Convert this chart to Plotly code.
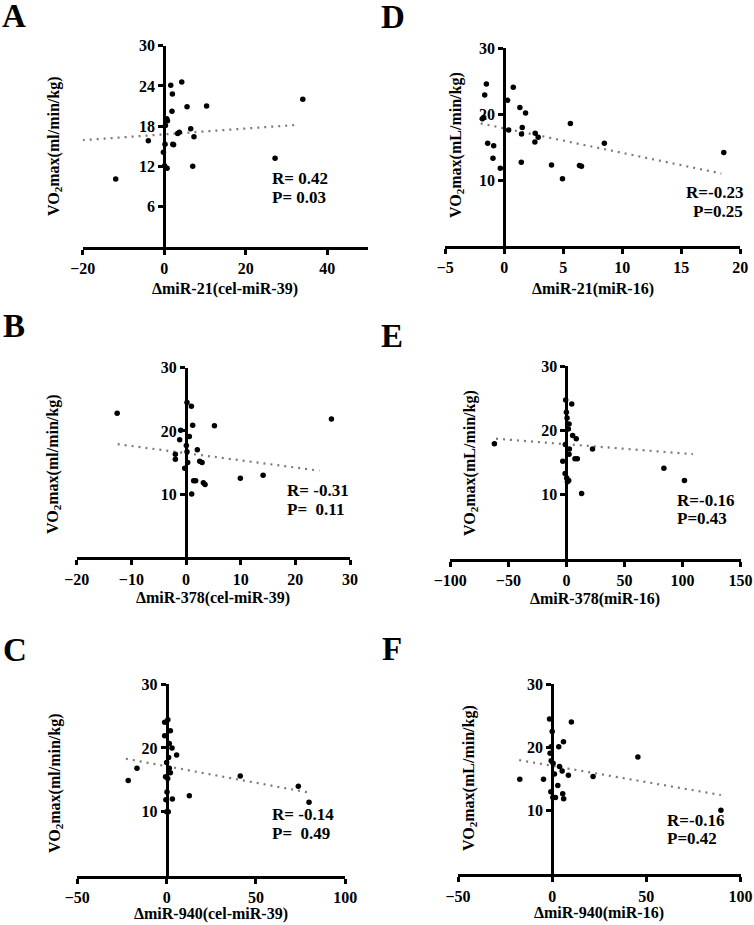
import plotly.graph_objects as go

W, H = 754, 925

# ---------------- data ----------------
# Panel A: dmiR-21 (cel-miR-39)
a_x = [-11.9, -3.9, 1.6, 4.3, 2.0, 5.6, 10.4, 1.9, 0.6, 0.8, 0.3, 3.7, 3.3, 6.5, 7.3, 2.1, 2.3, 0.2, -0.2, 0.1, 0.7, 7.0, 27.2, 34.0]
a_y = [10.1, 15.8, 24.1, 24.6, 22.8, 20.9, 21.0, 20.2, 19.1, 18.8, 18.1, 17.1, 16.9, 17.6, 16.4, 15.3, 15.2, 15.3, 14.1, 12.1, 11.7, 12.0, 13.2, 22.0]
a_fit_x = [-20, 33]
a_fit_y = [15.9, 18.2]

# Panel D: dmiR-21 (miR-16)
d_x = [-1.86, -1.75, -1.66, -1.52, -1.41, -0.9, -0.96, -0.34, 0.28, 0.37, 0.76, 1.32, 1.8, 1.52, 1.46, 1.44, 2.62, 2.87, 2.59, 4.0, 4.93, 5.6, 6.37, 6.54, 8.48, 18.6]
d_y = [19.3, 19.5, 22.9, 24.6, 15.6, 15.2, 13.3, 11.8, 22.1, 17.6, 24.1, 21.0, 20.2, 18.0, 17.0, 12.7, 17.1, 16.5, 15.8, 12.3, 10.2, 18.6, 12.2, 12.1, 15.6, 14.2]
d_fit_x = [-2.0, 18.4]
d_fit_y = [18.6, 11.0]

# Panel B: dmiR-378 (cel-miR-39)
b_x = [-12.6, -1.95, -1.95, -1.16, -0.98, 0.18, 0.98, 1.22, 0.61, 0.06, 0.18, 0.3, -0.24, 2.07, 2.5, 2.93, 1.4, 1.77, 3.17, 3.48, 1.04, 5.2, 9.94, 14.1, 26.6]
b_y = [22.8, 16.3, 15.5, 18.6, 20.1, 24.5, 23.9, 20.9, 19.1, 17.7, 16.7, 15.0, 14.1, 17.0, 15.2, 15.0, 12.1, 12.1, 11.8, 11.5, 10.0, 20.8, 12.5, 13.0, 21.9]
b_fit_x = [-12.5, 24.4]
b_fit_y = [17.9, 13.7]

# Panel E: dmiR-378 (miR-16)
e_x = [-62, 22.5, 84, 101.7, 13.1, 4.6, -0.6, 0, 0.6, 2.3, 1.7, 5.4, 8.5, -0.9, 2.6, 2.3, 7.4, 9.4, -3.1, -1.1, 0.3, 0.9, 2.0]
e_y = [17.9, 17.1, 14.1, 12.2, 10.2, 24.1, 24.7, 22.8, 21.9, 21.0, 20.2, 19.2, 18.7, 17.8, 17.1, 16.3, 15.6, 15.6, 15.2, 13.3, 12.6, 12.0, 12.2]
e_fit_x = [-60.6, 109]
e_fit_y = [18.7, 16.3]

# Panel C: dmiR-940 (cel-miR-39)
c_x = [-21.5, -16.6, 12.7, 3.2, 41.2, 73.7, 79.7, 5.6, 0.7, -1.1, 2.1, -1.1, 1.5, 3.0, 1.1, 0.0, 1.5, 2.1, -0.6, 0.6, 0.2, -0.4, 0.0, 0.9]
c_y = [14.9, 16.8, 12.5, 12.0, 15.6, 14.0, 11.5, 18.9, 24.4, 24.0, 22.7, 21.9, 20.7, 20.0, 18.5, 17.7, 16.8, 16.1, 15.5, 15.2, 13.1, 11.9, 10.0, 10.0]
c_fit_x = [-22.8, 79.9]
c_fit_y = [18.3, 13.0]

# Panel F: dmiR-940 (miR-16)
f_x = [-17.2, -4.6, -1.4, 0.0, -0.5, -1.1, -0.5, 0.5, 1.2, -0.7, 0.35, 1.75, 3.5, 6.0, 10.2, 3.9, 5.3, 3.0, 5.6, 6.1, 8.6, 21.7, 45.5, 89.6]
f_y = [15.0, 15.0, 24.5, 22.5, 20.1, 19.1, 17.9, 17.5, 15.8, 13.0, 12.1, 12.1, 20.1, 20.9, 24.0, 17.0, 16.3, 14.0, 12.7, 11.9, 15.6, 15.4, 18.5, 10.1]
f_fit_x = [-17.5, 89.6]
f_fit_y = [18.0, 12.5]

letters = ["A", "D", "B", "E", "C", "F"]
x_titles = ["ΔmiR-21(cel-miR-39)", "ΔmiR-21(miR-16)", "ΔmiR-378(cel-miR-39)",
            "ΔmiR-378(miR-16)", "ΔmiR-940(cel-miR-39)", "ΔmiR-940(miR-16)"]
y_titles = ["VO<sub>2</sub>max(ml/min/kg)", "VO<sub>2</sub>max(mL/min/kg)", "VO<sub>2</sub>max(ml/min/kg)",
            "VO<sub>2</sub>max(mL/min/kg)", "VO<sub>2</sub>max(ml/min/kg)", "VO<sub>2</sub>max(mL/min/kg)"]
r_texts = ["R= 0.42", "R=-0.23", "R= -0.31", "R=-0.16", "R= -0.14", "R=-0.16"]
p_texts = ["P= 0.03", "P=0.25", "P=\u00a0 0.11", "P=0.43", "P=\u00a0 0.49", "P=0.42"]
x_ranges = [[-20, 50], [-5, 20], [-20, 30], [-100, 150], [-50, 100], [-50, 100]]
x_ticks = [[-20, 0, 20, 40], [-5, 0, 5, 10, 15, 20], [-20, -10, 0, 10, 20, 30],
           [-100, -50, 0, 50, 100, 150], [-50, 0, 50, 100], [-50, 0, 50, 100]]
y_ticks = [[6, 12, 18, 24, 30], [10, 20, 30], [10, 20, 30], [10, 20, 30], [10, 20, 30], [10, 20, 30]]

xs = [a_x, d_x, b_x, e_x, c_x, f_x]
ys = [a_y, d_y, b_y, e_y, c_y, f_y]
fxs = [a_fit_x, d_fit_x, b_fit_x, e_fit_x, c_fit_x, f_fit_x]
fys = [a_fit_y, d_fit_y, b_fit_y, e_fit_y, c_fit_y, f_fit_y]

# ---------------- layout geometry (pixels) ----------------
# plot area: x0, x1, ytop, ybottom
boxes = [
    (82.7, 368.0, 45.7, 246.7),
    (445.3, 740.3, 48.3, 246.0),
    (76.7, 350.0, 367.7, 557.3),
    (450.3, 740.5, 366.0, 559.0),
    (77.3, 345.3, 684.0, 875.7),
    (458.0, 740.5, 684.0, 874.3),
]
letter_pos = [(14, 16), (393, 17), (14, 326), (392, 336), (15, 650), (392, 649)]
ytitle_pos = [(55, 146), (457, 145), (53, 464), (470, 463), (55, 783), (469, 778)]
xtitle_y = [289, 289, 598, 599, 914, 913]
# (x, anchor, y of R line, y of P line)
rp_pos = [(270, "left", 178, 197), (745, "right", 193, 211), (285, "left", 490, 509),
          (675, "left", 500, 518), (270, "left", 814, 833), (665, "left", 820, 838)]

FONT = "Liberation Serif"


def px(x):
    return x / W


def py(y):
    return 1 - y / H


fig = go.Figure()
annotations = []
layout = {}

for i in range(6):
    n = "" if i == 0 else str(i + 1)
    x0, x1, yt, yb = boxes[i]
    xr = x_ranges[i]
    zero_pos = px(x0 + (0 - xr[0]) / (xr[1] - xr[0]) * (x1 - x0))

    fig.add_trace(go.Scatter(
        x=fxs[i], y=fys[i], mode="lines",
        line=dict(color="#7a7a7a", width=2.2, dash="2px,5px"),
        xaxis="x" + n, yaxis="y" + n, showlegend=False, hoverinfo="skip"))
    fig.add_trace(go.Scatter(
        x=xs[i], y=ys[i], mode="markers",
        marker=dict(color="black", size=5.5),
        xaxis="x" + n, yaxis="y" + n, showlegend=False))

    layout["xaxis" + n] = dict(
        domain=[px(x0), px(x1)], range=xr, anchor="y" + n, automargin=False,
        tickvals=x_ticks[i], ticks="outside", ticklen=5, tickwidth=3, tickcolor="black",
        ticklabeloverflow="allow",
        showline=True, linewidth=3, linecolor="black", showgrid=False, zeroline=False,
        tickfont=dict(family=FONT, size=16, color="black", weight="bold"))
    layout["yaxis" + n] = dict(
        domain=[py(yb), py(yt)], range=[0, 30], anchor="free", position=zero_pos,
        automargin=False, ticklabeloverflow="allow",
        tickvals=y_ticks[i], ticks="outside", ticklen=5, tickwidth=3, tickcolor="black",
        showline=True, linewidth=3, linecolor="black", showgrid=False, zeroline=False,
        tickfont=dict(family=FONT, size=16, color="black", weight="bold"))

    lx, ly = letter_pos[i]
    annotations.append(dict(text=letters[i], x=px(lx), y=py(ly), xref="paper", yref="paper",
                            showarrow=False, xanchor="center", yanchor="middle",
                            font=dict(family=FONT, size=33, color="black", weight="bold")))
    tx, ty = ytitle_pos[i]
    annotations.append(dict(text=y_titles[i], x=px(tx), y=py(ty), xref="paper", yref="paper",
                            showarrow=False, textangle=-90, xanchor="center", yanchor="middle",
                            font=dict(family=FONT, size=16, color="black", weight="bold")))
    annotations.append(dict(text=x_titles[i], x=px((x0 + x1) / 2), y=py(xtitle_y[i]),
                            xref="paper", yref="paper", showarrow=False,
                            xanchor="center", yanchor="middle",
                            font=dict(family=FONT, size=16, color="black", weight="bold")))
    rx, ra, ry, pyy = rp_pos[i]
    for txt, yy in ((r_texts[i], ry), (p_texts[i], pyy)):
        annotations.append(dict(text=txt, x=px(rx), y=py(yy), xref="paper", yref="paper",
                                showarrow=False, xanchor=ra, yanchor="middle",
                                font=dict(family=FONT, size=17, color="black", weight="bold")))

fig.update_layout(
    template="none",
    width=W, height=H, margin=dict(l=0, r=0, t=0, b=0, autoexpand=False),
    paper_bgcolor="white", plot_bgcolor="white",
    font=dict(family=FONT, color="black"),
    annotations=annotations, **layout)

fig.write_html("out.html",
               config={"displayModeBar": False},
               post_script="document.body.style.margin='0';document.body.style.overflow='hidden';")
